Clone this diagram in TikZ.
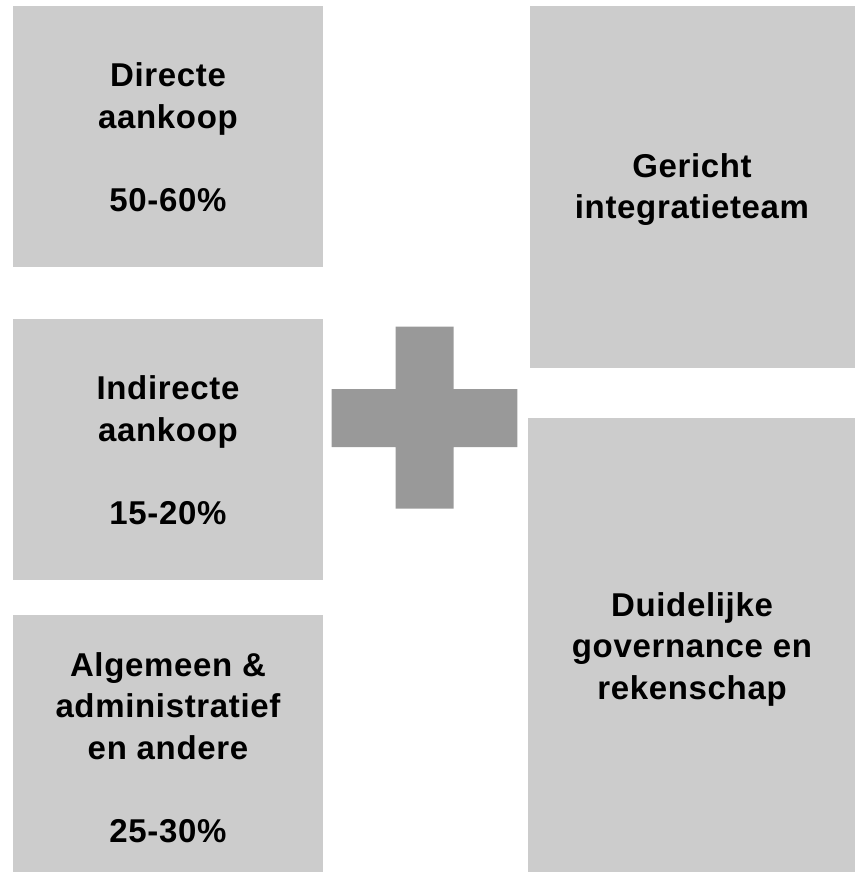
\documentclass[tikz,border=0pt]{standalone}
\usepackage{fontspec}
\setmainfont{Liberation Sans}[LetterSpace=2.0]
\definecolor{boxgray}{HTML}{CCCCCC}
\definecolor{plusgray}{HTML}{999999}
\tikzset{
  box/.style={fill=boxgray, draw=none, inner sep=0pt, outer sep=0pt},
  lbl/.style={align=center, anchor=base, inner sep=0pt,
    font=\fontsize{33}{41.5}\selectfont\bfseries}
}
\begin{document}
\begin{tikzpicture}[x=1pt,y=-1pt]
\useasboundingbox (0,0) rectangle (855,872);
% boxes
\node[box, minimum width=310pt, minimum height=260.7pt] (b1) at (168,136.3) {};
\node[box, minimum width=310pt, minimum height=261pt] (b2) at (168,449.5) {};
\node[box, minimum width=310pt, minimum height=257pt] (b3) at (168,743.5) {};
\node[box, minimum width=325pt, minimum height=361.7pt] (b4) at (692.5,186.8) {};
\node[box, minimum width=327pt, minimum height=454pt] (b5) at (691.5,645) {};
% plus sign
\fill[plusgray] (395.7,326.7) -- (453.7,326.7) -- (453.7,389) -- (517.3,389)
  -- (517.3,447) -- (453.7,447) -- (453.7,508.7) -- (395.7,508.7)
  -- (395.7,447) -- (331.7,447) -- (331.7,389) -- (395.7,389) -- cycle;
% labels (anchor = baseline of last line)
\node[lbl] (t1) at (168,211) {Directe\\aankoop\\[41.5pt]50-60\%};
\node[lbl] (t2) at (168,524) {Indirecte\\aankoop\\[41.5pt]15-20\%};
\node[lbl] (t3) at (168,842) {Algemeen \&\\administratief\\en andere\\[41.5pt]25-30\%};
\node[lbl] (t4) at (692,218.8) {Gericht\\integratieteam};
\node[lbl] (t5) at (692,699) {Duidelijke\\governance en\\rekenschap};
\end{tikzpicture}
\end{document}
